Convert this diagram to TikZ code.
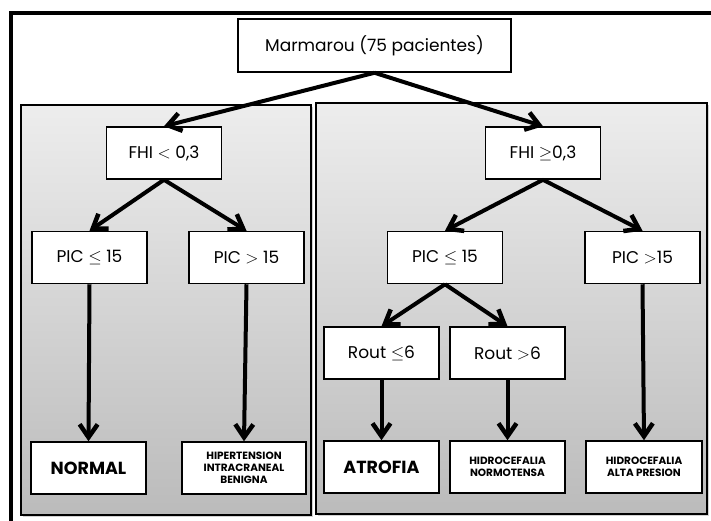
\documentclass[tikz,border=0pt]{standalone}
\usepackage{fontspec}
\setmainfont{Poppins}
\usetikzlibrary{arrows.meta,shadows}
\definecolor{panelTop}{HTML}{EDEDED}
\definecolor{panelBot}{HTML}{BBBBBB}

\begin{document}
\begin{tikzpicture}[x=1pt,y=-1pt,
    box/.style={draw, line width=1.5pt, fill=white, minimum width=115pt, minimum height=52pt,
      inner sep=1pt, align=center, font=\fontsize{17}{19}\selectfont},
    result/.style={box, font=\bfseries\fontsize{10.5}{12}\selectfont},
    bigresult/.style={box, font=\bfseries\fontsize{17.5}{19}\selectfont},
    panel/.style={draw, line width=1.5pt, top color=panelTop, bottom color=panelBot,
      drop shadow={shadow xshift=2pt, shadow yshift=-2pt, opacity=0.35}},
    link/.style={-{Straight Barb[length=13pt,width=18pt,line width=4.5pt]}, line width=4pt}]
    \useasboundingbox (0,0) rectangle (711,520);
    \clip (0,0) rectangle (711,520);
    \fill[white] (0,0) rectangle (711,520);

    % Outer frame
    \draw[line width=4pt] (11,530) -- (11,13) -- (720,13);

    % Panels
    \path[panel] (21,105) rectangle (311,515);
    \path[panel] (316,103) rectangle (707,514);

    % Root
    \node[box, minimum width=273pt, minimum height=53pt] (root) at (374.5,45.5) {Marmarou (75 pacientes)};

    % FHI split
    \node[box] (fhi1) at (164,153) {FHI $<$ 0,3};
    \node[box] (fhi2) at (543,153) {FHI $\geq$0,3};
    \draw[link] (root.south) -- (fhi1.north);
    \draw[link] (root.south) -- (fhi2.north);

    % PIC split
    \node[box] (pic1) at (89.5,257.5) {PIC $\leq$ 15};
    \node[box] (pic2) at (246.5,257.5) {PIC $>$ 15};
    \node[box] (pic3) at (445,257.5) {PIC $\leq$ 15};
    \node[box] (pic4) at (642.5,257.5) {PIC $>$15};
    \draw[link] (fhi1.south) -- (pic1.north);
    \draw[link] (fhi1.south) -- (pic2.north);
    \draw[link] (fhi2.south) -- (pic3.north);
    \draw[link] (fhi2.south) -- (pic4.north);

    % Rout split
    \node[box] (rout1) at (381.5,353) {Rout $\leq$6};
    \node[box] (rout2) at (507.5,353) {Rout $>$6};
    \draw[link] (pic3.south) -- (rout1.north);
    \draw[link] (pic3.south) -- (rout2.north);

    % Results
    \node[bigresult] (res1) at (88.5,468) {NORMAL};
    \node[result, minimum width=124pt] (res2) at (244,468) {HIPERTENSION\\INTRACRANEAL\\BENIGNA};
    \node[bigresult] (res3) at (381.5,467) {ATROFIA};
    \node[result] (res4) at (507.5,467) {HIDROCEFALIA\\NORMOTENSA};
    \node[result, minimum width=116pt] (res5) at (644,467) {HIDROCEFALIA\\ALTA PRESION};
    \draw[link] (pic1.south) -- (res1.north);
    \draw[link] (pic2.south) -- (res2.north);
    \draw[link] (rout1.south) -- (res3.north);
    \draw[link] (rout2.south) -- (res4.north);
    \draw[link] (pic4.south) -- (res5.north);
\end{tikzpicture}
\end{document}
